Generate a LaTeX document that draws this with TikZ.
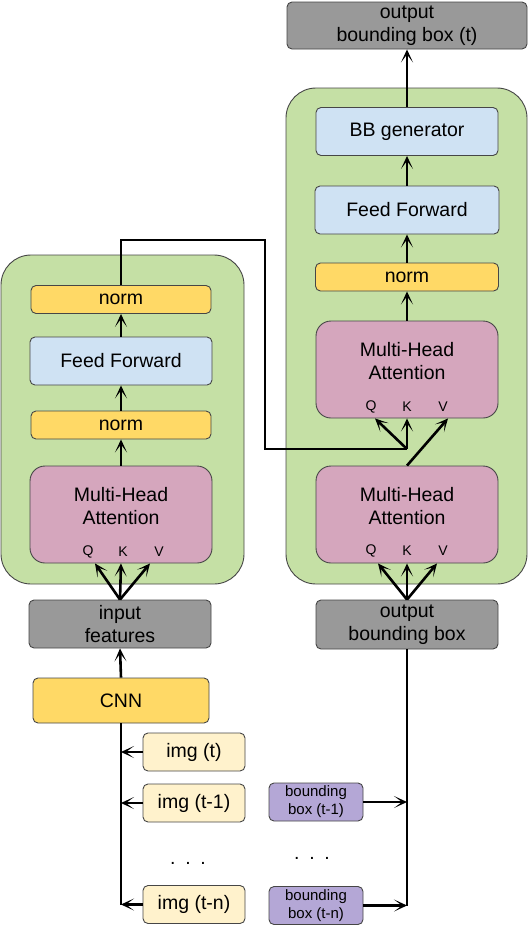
\documentclass[tikz,border=0pt]{standalone}
\usepackage{fontspec}
\setmainfont{Liberation Sans}
\usepackage{xcolor}
\usetikzlibrary{arrows.meta}

\definecolor{encgreen}{RGB}{197,224,165}
\definecolor{normyellow}{RGB}{255,217,102}
\definecolor{ffblue}{RGB}{207,226,243}
\definecolor{mhapink}{RGB}{213,166,189}
\definecolor{iogray}{RGB}{153,153,153}
\definecolor{imgyellow}{RGB}{255,242,204}
\definecolor{bbpurple}{RGB}{180,167,214}
\definecolor{edgegray}{RGB}{70,70,70}

\begin{document}
\begin{tikzpicture}[x=1pt,y=-1pt,
		every node/.style={font=\fontsize{19.5}{23}\selectfont, inner sep=0pt, align=center},
		blk/.style={draw=edgegray, line width=0.9pt, rounded corners=5pt},
		encbox/.style={blk, fill=encgreen, rounded corners=30pt},
		normbox/.style={blk, fill=normyellow, minimum width=180pt, minimum height=28pt},
		ffbox/.style={blk, fill=ffblue, minimum width=182pt, minimum height=48pt},
		mhabox/.style={blk, fill=mhapink, rounded corners=15pt, minimum width=182pt, minimum height=97pt},
		iobox/.style={blk, fill=iogray, minimum width=182pt, minimum height=48pt},
		imgbox/.style={blk, fill=imgyellow, minimum width=102pt, minimum height=38pt},
		bbbox/.style={blk, fill=bbpurple, minimum width=94pt, minimum height=38pt, font=\fontsize{15}{18}\selectfont},
		qkv/.style={font=\fontsize{14}{14}\selectfont},
		conn/.style={line width=2.6pt, -{Stealth[length=13pt,width=12pt,inset=8pt]}},
		wire/.style={line width=2.6pt}
	]
	\useasboundingbox (0,0) rectangle (528,926);
	
	% encoder (left)
	\node[encbox, minimum width=243pt, minimum height=329pt] (lenc) at (122.5,419.5) {};
	\node[normbox] (lnormb) at (121,299.5) {norm};
	\node[ffbox] (lff) at (121,361) {Feed Forward};
	\node[normbox] (lnorma) at (121,425) {norm};
	\node[mhabox] (lmha) at (121,514.5) {};
	\node (lmhatxt) at (121,506) {Multi-Head\\Attention};
	\foreach \n/\x in {Q/88, K/123, V/159}{
		\node[qkv] (l\n) at (\x,552) {\n};
	}
	
	% decoder (right)
	\node[encbox, minimum width=241pt, minimum height=496pt] (renc) at (406.5,336) {};
	\node[ffbox] (bbgen) at (407,131.5) {BB generator};
	\node[ffbox, minimum width=184pt] (rff) at (407,210) {Feed Forward};
	\node[normbox, minimum width=183pt] (rnorm) at (407,277) {norm};
	\node[mhabox] (rmhab) at (407,369.5) {};
	\node (rmhabtxt) at (407,361) {Multi-Head\\Attention};
	\node[mhabox] (rmhaa) at (407,514.5) {};
	\node (rmhaatxt) at (407,506) {Multi-Head\\Attention};
	\foreach \n/\x in {Q/371, K/407, V/443}{
		\node[qkv] (rb\n) at (\x,407) {\n};
		\node[qkv] (ra\n) at (\x,551) {\n};
	}
	
	% inputs / outputs
	\node[iobox, minimum width=240pt, minimum height=47pt] (outt) at (407,25.5) {output\\bounding box (t)};
	\node[iobox] (infeat) at (120,624) {input\\features};
	\node[iobox, minimum height=49pt] (outbb) at (407,624.5) {output\\bounding box};
	\node[normbox, minimum width=176pt, minimum height=45pt] (cnn) at (121,700.5) {CNN};
	
	\foreach \n/\y/\t in {imgt/752/{img (t)}, imgta/803/{img (t-1)}, imgtn/904.5/{img (t-n)}}{
		\node[imgbox] (\n) at (194,\y) {\t};
	}
	\node[bbbox] (bbta) at (316,802) {bounding\\box (t-1)};
	\node[bbbox] (bbtn) at (316,905.5) {bounding\\box (t-n)};
	\node (imgdots) at (188,863) {.\enspace.\enspace.};
	\node (bbdots) at (312,858) {.\enspace.\enspace.};
	
	% left chain
	\foreach \x/\y in {lmha/lnorma, lnorma/lff, lff/lnormb, cnn/infeat}{
		\draw[conn] (\x.north) -- (\y.south);
	}
	\foreach \s in {-26, 0, 29}{
		\draw[conn] (infeat.north) -- ([xshift=\s pt]lmha.south);
	}
	
	% right chain
	\foreach \x/\y in {rmhab/rnorm, rnorm/rff, rff/bbgen, bbgen/outt}{
		\draw[conn] (\x.north) -- (\y.south);
	}
	\foreach \s in {-29, 0, 30}{
		\draw[conn] (outbb.north) -- ([xshift=\s pt]rmhaa.south);
	}
	\draw[conn] (rmhaa.north) -- ([xshift=41pt]rmhab.south);
	
	% skip from encoder
	\coordinate (skipturn) at (265,240);
	\coordinate (rjoin) at (407,449);
	\draw[wire] (lnormb.north) |- (skipturn) |- (rjoin);
	\draw[conn] (rjoin) -- ([xshift=-32pt]rmhab.south);
	\draw[conn] (rjoin) -- (rmhab.south);
	
	% sequences
	\coordinate (imgbus) at (121,905);
	\coordinate (bbbus) at (407,906);
	\draw[line width=1.8pt] (cnn.south) -- (imgbus);
	\draw[wire] (outbb.south) -- (bbbus);
	\foreach \n in {imgt, imgta, imgtn}{
		\draw[conn] (\n.west) -- (\n.west -| imgbus);
	}
	\foreach \n in {bbta, bbtn}{
		\draw[conn] (\n.east) -- (\n.east -| bbbus);
	}
\end{tikzpicture}
\end{document}
